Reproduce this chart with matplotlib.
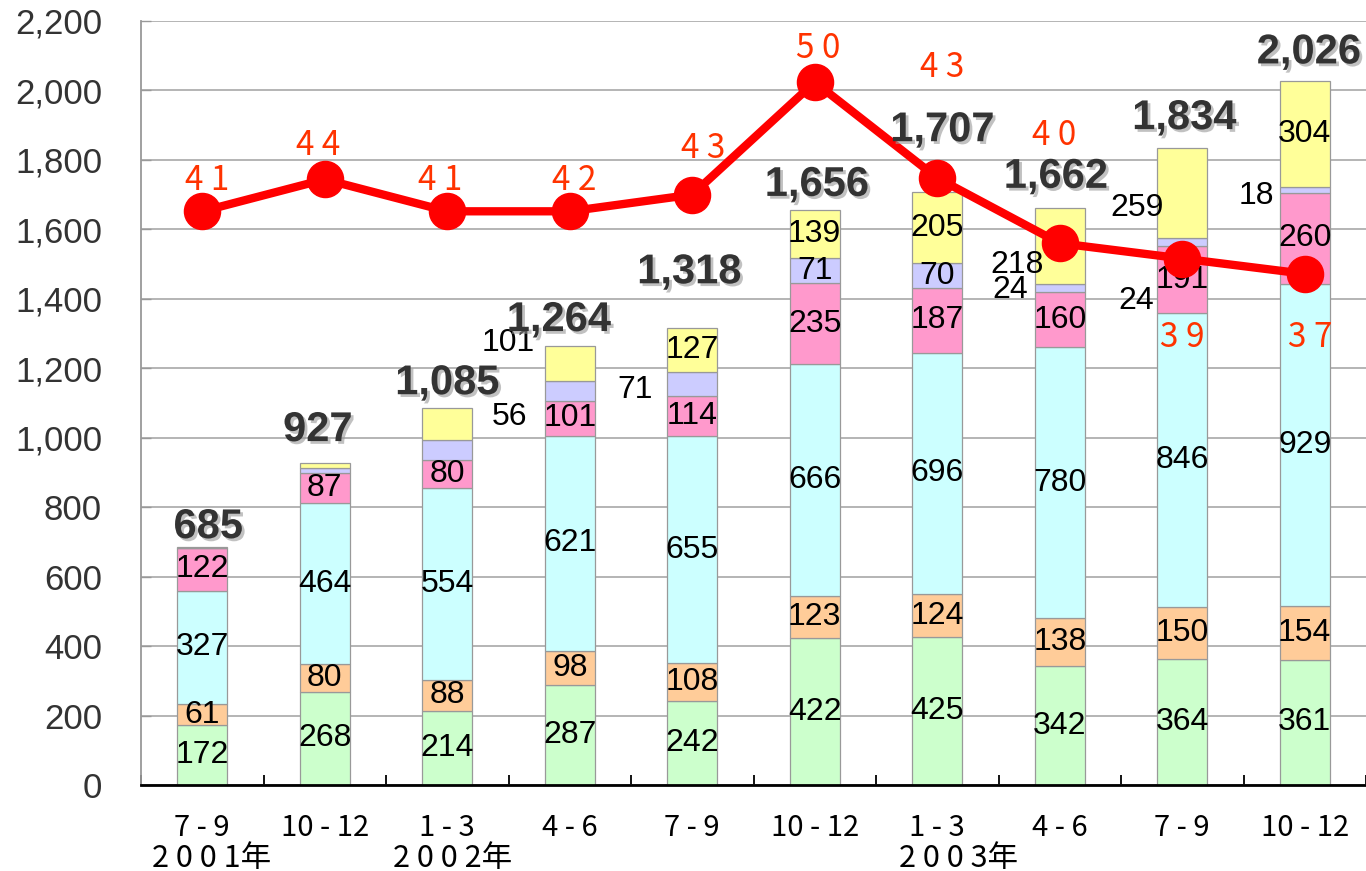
import matplotlib
matplotlib.use("Agg")
import matplotlib.pyplot as plt
import matplotlib.patheffects as pe
from matplotlib.ticker import FixedLocator, FuncFormatter

# ---------------- data ----------------
periods = ["7 - 9", "10 - 12", "1 - 3", "4 - 6", "7 - 9", "10 - 12", "1 - 3", "4 - 6", "7 - 9", "10 - 12"]
years = ["2 0 0 1年", "2 0 0 2年", "2 0 0 3年"]
year_pos = [0, 2, 6]

green = [172, 268, 214, 287, 242, 422, 425, 342, 364, 361]
orange = [61, 80, 88, 98, 108, 123, 124, 138, 150, 154]
cyan = [327, 464, 554, 621, 655, 666, 696, 780, 846, 929]
pink = [122, 87, 80, 101, 114, 235, 187, 160, 191, 260]
lavender = [1, 15, 57, 56, 71, 71, 70, 24, 24, 18]
yellow = [2, 13, 92, 101, 127, 139, 205, 218, 259, 304]
totals = [685, 927, 1085, 1264, 1318, 1656, 1707, 1662, 1834, 2026]

line_values = [41.3, 43.6, 41.3, 41.3, 42.5, 50.6, 43.7, 39.0, 37.9, 36.8]
line_labels = ["4 1", "4 4", "4 1", "4 2", "4 3", "5 0", "4 3", "4 0", "3 9", "3 7"]

yticks = [0, 200, 400, 600, 800, 1000, 1200, 1400, 1600, 1800, 2000, 2200]

# ---------------- style / layout ----------------
colors = ["#CCFFCC", "#FFCC99", "#CCFFFF", "#FF99CC", "#CCCCFF", "#FFFF99"]
series = [green, orange, cyan, pink, lavender, yellow]
# label offsets in pixels per series per bar (None = no label)
show_all = [(0, 0)] * 10
lav_off = [None, None, None, (-60, -26), (-57, -6), (0, 0), (0, 0), (-49, -2), (-46, -59), (-48, -6)]
yel_off = [None, None, None, (-62, 21), (0, 0), (0, 0), (0, 0), (-43, -19), (-45, -15), (0, 0)]
label_offsets = [show_all, show_all, show_all, show_all, lav_off, yel_off]
total_off = [(6, 20), (-7, 33), (0, 25), (-11, 26), (-3, 55), (2, 25), (5, 62), (-4, 31), (2, 30), (4, 29)]
red_off = [(5, 31), (-7, 34), (-7, 31), (4, 31), (11, 46), (3, 34), (5, 110), (-6, 108), (0, -79), (6, -64)]
year_off = [9, 5, 21]

NARROW = ["Liberation Sans Narrow", "Noto Sans CJK JP", "DejaVu Sans"]
SANS = ["Liberation Sans", "DejaVu Sans"]

fig = plt.figure(figsize=(13.66, 8.71), dpi=100)
ax = fig.add_axes([141 / 1366, 1 - 785 / 871, 1 - 141 / 1366, (785 - 21) / 871])

x = list(range(len(periods)))
bottom = [0] * len(x)
for vals, col, offs in zip(series, colors, label_offsets):
    ax.bar(x, vals, width=0.41, bottom=bottom, color=col, edgecolor="#999999",
           linewidth=0.9, zorder=2)
    for i in x:
        if offs[i] is not None:
            ax.annotate(str(vals[i]), xy=(i, bottom[i] + vals[i] / 2),
                        xytext=offs[i], textcoords="offset pixels",
                        ha="center", va="center", fontsize=23, family=SANS,
                        color="black", zorder=5)
    bottom = [b + v for b, v in zip(bottom, vals)]

ax.set_xlim(-0.5, len(x) - 0.5)
ax.set_ylim(0, 2200)
ax.yaxis.set_major_locator(FixedLocator(yticks))
ax.yaxis.set_major_formatter(FuncFormatter(lambda v, p: f"{int(v):,}"))
ax.grid(axis="y", color="#A0A0A0", linewidth=1.1, zorder=0)
ax.set_axisbelow(True)
ax.tick_params(axis="y", direction="in", length=7, color="#999999", width=1,
               labelsize=25, labelcolor="#333333", pad=28)
for lab in ax.get_yticklabels():
    lab.set_family(SANS)

ax.set_xticks(x)
ax.set_xticklabels(periods, fontsize=21, family=NARROW, color="black")
ax.set_xticks([i - 0.5 for i in range(len(x) + 1)], minor=True)
ax.tick_params(axis="x", which="major", length=0, pad=20)
ax.tick_params(axis="x", which="minor", direction="in", length=7, width=1.3, color="black")

for s in ["top", "right"]:
    ax.spines[s].set_visible(False)
ax.spines["left"].set_color("#999999")
ax.spines["left"].set_linewidth(1.3)
ax.spines["bottom"].set_color("black")
ax.spines["bottom"].set_linewidth(2)

for yl, yp, yo in zip(years, year_pos, year_off):
    ax.annotate(yl, xy=(yp, 0), xycoords=("data", "axes fraction"),
                xytext=(yo, -73), textcoords="offset pixels",
                ha="center", va="center", fontsize=22, family=NARROW,
                color="black", annotation_clip=False)

# secondary axis for the line
ax2 = ax.twinx()
ax2.set_ylim(0, 55)
ax2.axis("off")
ax2.plot(x, line_values, color="#FF0000", linewidth=6, marker="o",
         markersize=26, markerfacecolor="#FF0000", markeredgecolor="#FF0000",
         zorder=3, solid_joinstyle="round")
for i in x:
    ax2.annotate(line_labels[i], xy=(i, line_values[i]), xytext=red_off[i],
                 textcoords="offset pixels", ha="center", va="center",
                 fontsize=24, family=NARROW, color="#FF3300", zorder=6)

shadow = [pe.withSimplePatchShadow(offset=(2, -2), shadow_rgbFace="#999999", alpha=0.6)]
for i in x:
    ax2.annotate(f"{totals[i]:,}", xy=(i, totals[i]), xycoords=ax.transData,
                 xytext=total_off[i], textcoords="offset pixels",
                 ha="center", va="center", fontsize=30, fontweight="bold",
                 family=SANS, color="#333333", path_effects=shadow, zorder=7)

fig.savefig("out.png", dpi=100)
